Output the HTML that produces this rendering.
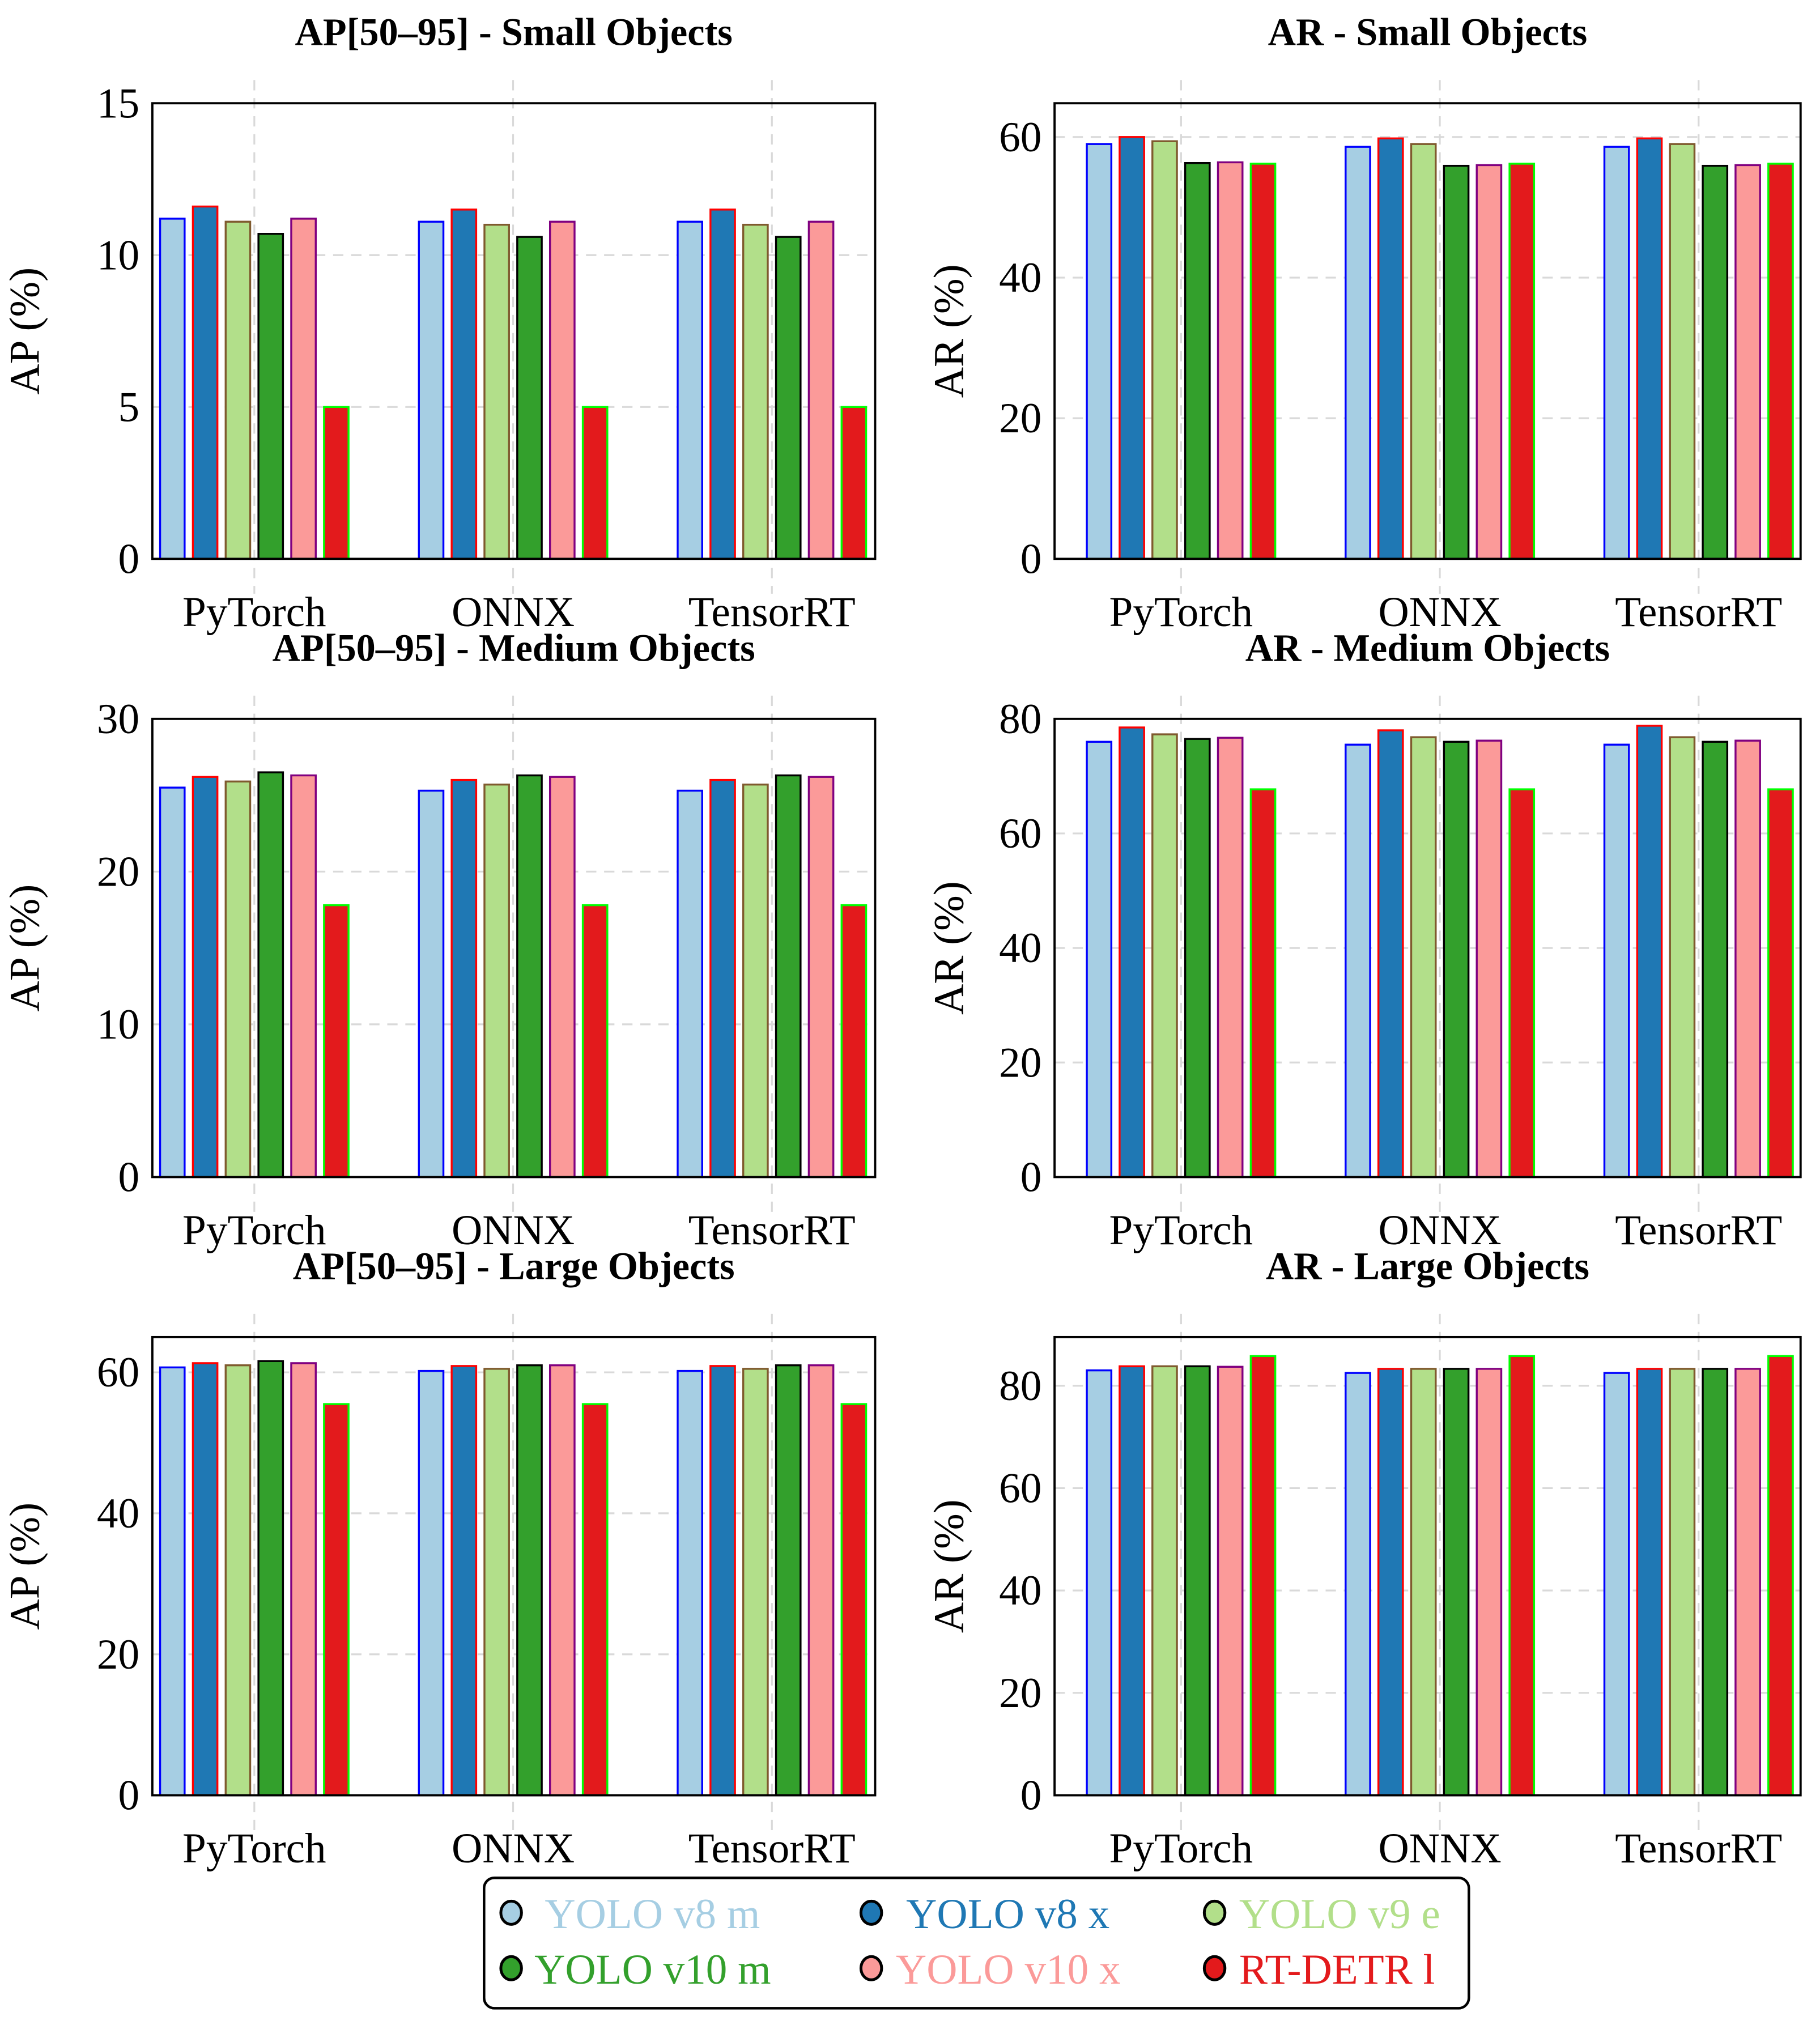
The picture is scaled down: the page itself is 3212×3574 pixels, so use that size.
<!DOCTYPE html>
<html><head><meta charset="utf-8">
<style>html,body{margin:0;padding:0;background:#fff}svg{display:block}text{font-family:"Liberation Serif",serif}</style>
</head><body>
<svg id="fig" xmlns="http://www.w3.org/2000/svg" width="3212" height="3574" viewBox="0 0 1410 1569"></svg>
<script>
const categories = ["PyTorch","ONNX","TensorRT"];
const seriesNames = ["YOLO v8 m","YOLO v8 x","YOLO v9 e","YOLO v10 m","YOLO v10 x","RT-DETR l"];
const apSmall = [[11.2,11.1,11.1],[11.6,11.5,11.5],[11.1,11.0,11.0],[10.7,10.6,10.6],[11.2,11.1,11.1],[5.0,5.0,5.0]];
const arSmall = [[59.0,58.6,58.6],[60.0,59.8,59.8],[59.4,59.0,59.0],[56.3,55.9,55.9],[56.4,56.0,56.0],[56.2,56.2,56.2]];
const apMedium = [[25.5,25.3,25.3],[26.2,26.0,26.0],[25.9,25.7,25.7],[26.5,26.3,26.3],[26.3,26.2,26.2],[17.8,17.8,17.8]];
const arMedium = [[76.0,75.5,75.5],[78.5,78.0,78.8],[77.3,76.8,76.8],[76.5,76.0,76.0],[76.7,76.2,76.2],[67.7,67.7,67.7]];
const apLarge = [[60.7,60.2,60.2],[61.3,60.9,60.9],[61.0,60.5,60.5],[61.6,61.0,61.0],[61.3,61.0,61.0],[55.5,55.5,55.5]];
const arLarge = [[83.0,82.5,82.5],[83.8,83.3,83.3],[83.8,83.3,83.3],[83.8,83.3,83.3],[83.7,83.3,83.3],[85.8,85.8,85.8]];
const ticksAPSmall = [0,5,10,15];
const ticksAPMedium = [0,10,20,30];
const ticksAR = [0,20,40,60];
const ticksARMedium = [0,20,40,60,80];
const ticksARLarge = [0,20,40,60,80];

const fills = ["#a6cee3","#1f78b4","#b2df8a","#33a02c","#fb9a99","#e31a1c"];
const strokes = ["#0000ff","#ff0000","#7f5a2e","#000000","#800080","#00ff00"];
const NS = "http://www.w3.org/2000/svg";
const svg = document.getElementById('fig');
function mk(tag, attrs, parent){const e=document.createElementNS(NS,tag);for(const k in attrs)e.setAttribute(k,attrs[k]);(parent||svg).appendChild(e);return e;}

const panels = [
 {title:"AP[50–95] - Small Objects", ylab:"AP (%)", data:apSmall, ticks:ticksAPSmall, max:15, x0:118,x1:678,y0:80,y1:433, c0:197, ylx:30, name:"ap-small"},
 {title:"AR - Small Objects", ylab:"AR (%)", data:arSmall, ticks:ticksAR, max:64.8, x0:817,x1:1395,y0:80,y1:433, c0:915, ylx:746, name:"ar-small"},
 {title:"AP[50–95] - Medium Objects", ylab:"AP (%)", data:apMedium, ticks:ticksAPMedium, max:30, x0:118,x1:678,y0:557,y1:912, c0:197, ylx:30, name:"ap-medium"},
 {title:"AR - Medium Objects", ylab:"AR (%)", data:arMedium, ticks:ticksARMedium, max:80, x0:817,x1:1395,y0:557,y1:912, c0:915, ylx:746, name:"ar-medium"},
 {title:"AP[50–95] - Large Objects", ylab:"AP (%)", data:apLarge, ticks:ticksAR, max:65, x0:118,x1:678,y0:1036,y1:1391, c0:197, ylx:30, name:"ap-large"},
 {title:"AR - Large Objects", ylab:"AR (%)", data:arLarge, ticks:ticksARLarge, max:89.5, x0:817,x1:1395,y0:1036,y1:1391, c0:915, ylx:746, name:"ar-large"}
];

panels.forEach(p=>{
  const g = mk('g',{});
  
  
  const W = p.x1-p.x0;
  const yS = v => p.y1 - v/p.max*(p.y1-p.y0);
  const cx = i => p.c0 + i*200.5;
  const step = 25.4, bw = 19;
  p.ticks.forEach(t=>{
    const y=yS(t);
    if(t>0 && t<p.max){const l=mk('line',{x1:p.x0,x2:p.x1,y1:y,y2:y,stroke:'#d9d9d9','stroke-width':1.4,'stroke-dasharray':'8,6'},g);
    
    }
    const tk=mk('text',{x:p.x0-10,y:y+11,'font-size':33,'text-anchor':'end',fill:'#000'},g);tk.textContent=t;
    
    
  });
  categories.forEach((c,i)=>{
    const x=cx(i);
    const l=mk('line',{x1:x,x2:x,y1:p.y0-18,y2:p.y1+27,stroke:'#d9d9d9','stroke-width':1.4,'stroke-dasharray':'8,6'},g);
    
    
    const t=mk('text',{x:x,y:p.y1+52,'font-size':33,'text-anchor':'middle'},g);t.textContent=c;
    
    
  });
  p.data.forEach((ser,s)=>{
    ser.forEach((v,i)=>{
      const x = cx(i) + (s-2.5)*step - bw/2;
      const y = yS(v);
      const r=mk('rect',{x:x,y:y,width:bw,height:p.y1-y,fill:fills[s],stroke:strokes[s],'stroke-width':1.5},g);
      
      
    });
  });
  const fr=mk('rect',{x:p.x0,y:p.y0,width:W,height:p.y1-p.y0,fill:'none',stroke:'#000','stroke-width':1.7},g);
  
  
  const ti=mk('text',{x:(p.x0+p.x1)/2,y:p.y0-45,'font-size':30,'font-weight':'bold','text-anchor':'middle'},g);ti.textContent=p.title;
  
  
  const ylx = p.ylx, yly=(p.y0+p.y1)/2;
  const yl=mk('text',{x:ylx,y:yly,'font-size':33,'text-anchor':'middle',transform:`rotate(-90 ${ylx} ${yly})`},g);yl.textContent=p.ylab;
  
  
});

const lg = mk('g',{});


mk('rect',{x:375,y:1455,width:763,height:101,rx:8,fill:'#fff',stroke:'#000','stroke-width':2},lg);
const lx=[396,675,941], tx=[422,702,960], ly=[1483,1526];
seriesNames.forEach((n,s)=>{
  const c=s%3, r=Math.floor(s/3);
  const e=mk('g',{},lg);
  
  
  mk('ellipse',{cx:lx[c],cy:ly[r]-1,rx:8,ry:9,fill:fills[s],stroke:'#000','stroke-width':2.2},e);
  const t=mk('text',{x:(r==1&&c==0)?414:(r==1&&c==1?694:tx[c]),y:ly[r]+11,'font-size':33,fill:fills[s]},e);t.textContent=n;
});
</script>
</body></html>
